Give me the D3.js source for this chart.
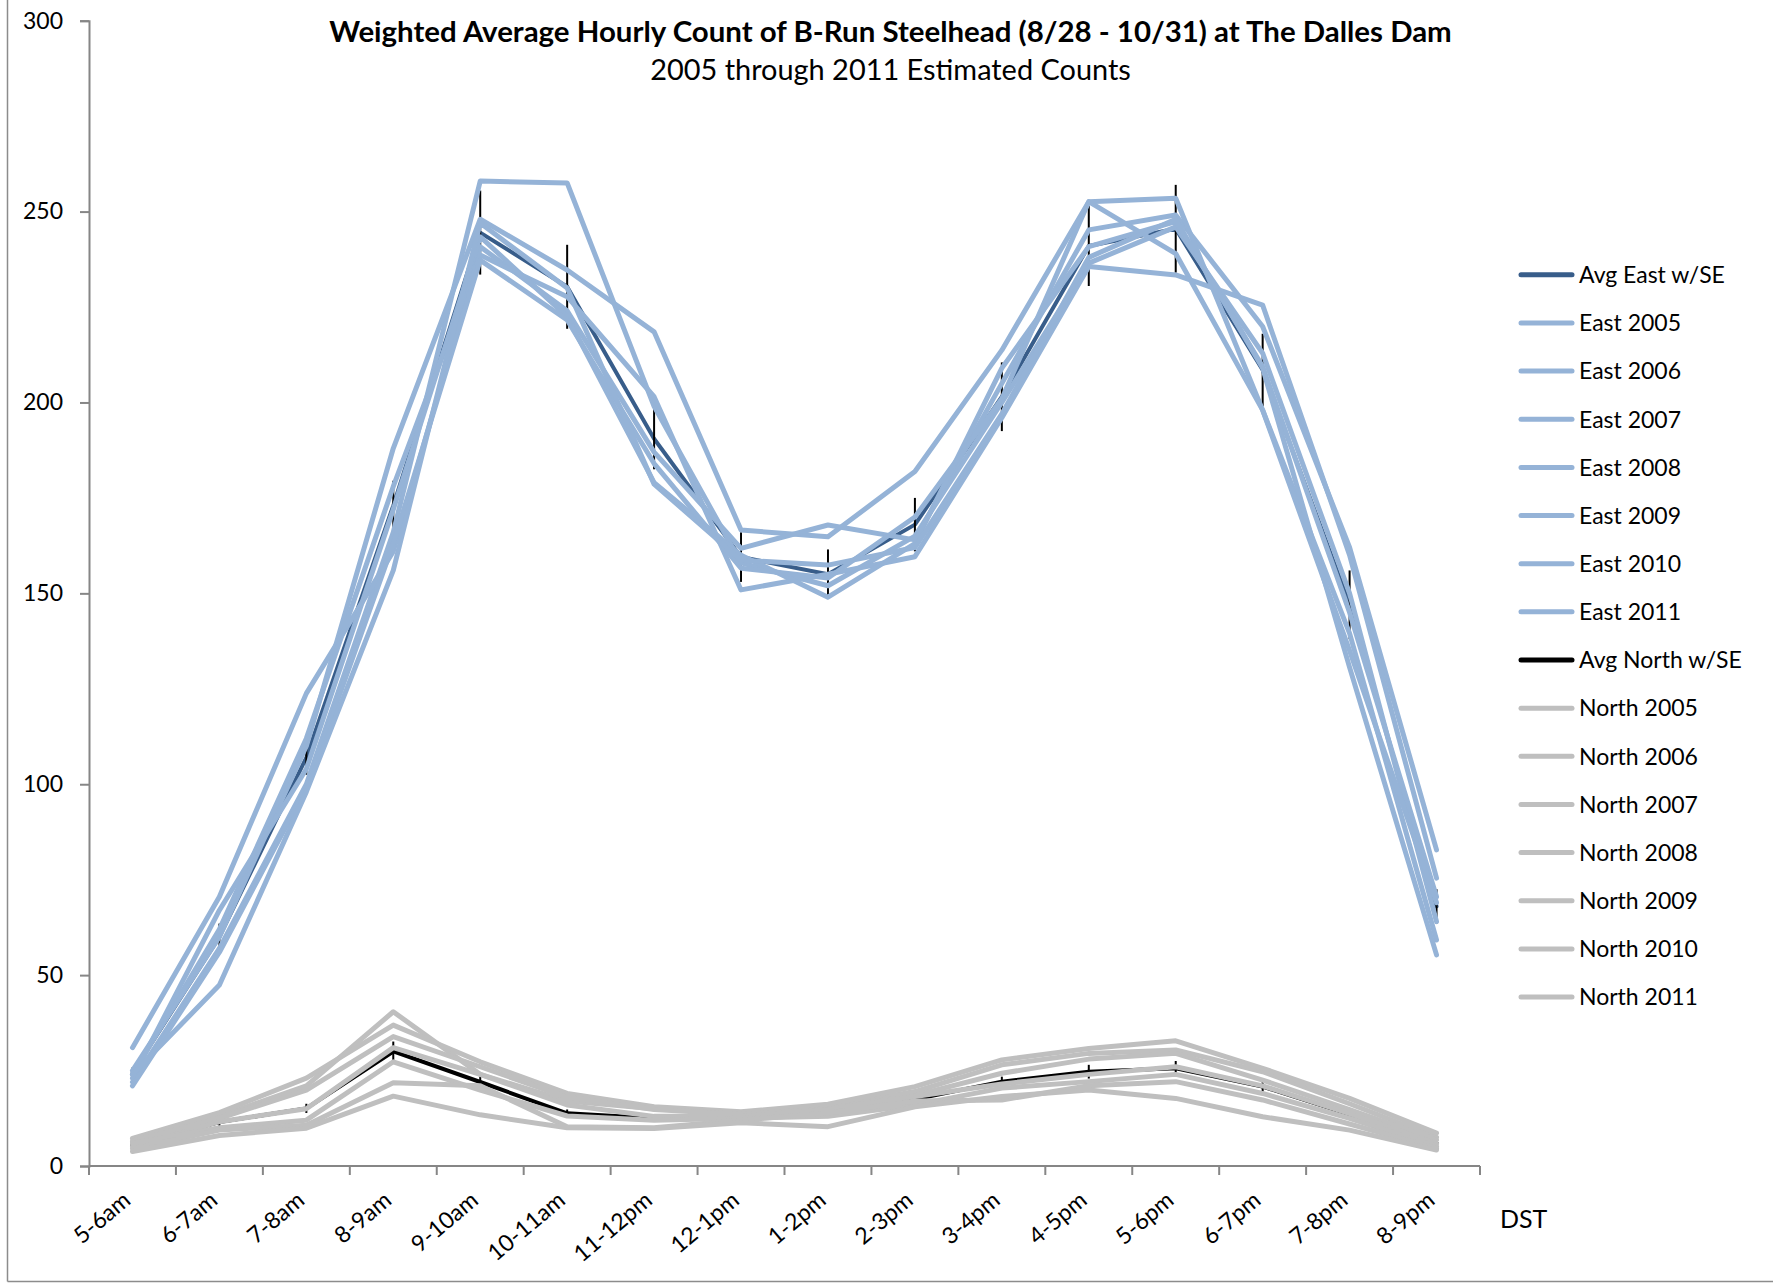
<!DOCTYPE html>
<html>
<head>
<meta charset="utf-8">
<script src="https://cdn.jsdelivr.net/npm/d3@7"></script>
<style>
  html, body { margin: 0; padding: 0; background: #fff; }
  svg { display: block; }
  text { font-family: Lato, "Open Sans", sans-serif; fill: #000; }
</style>
</head>
<body>
<svg id="chart" width="1773" height="1283"></svg>
<script>
const categories = ["5-6am","6-7am","7-8am","8-9am","9-10am","10-11am","11-12pm","12-1pm","1-2pm","2-3pm","3-4pm","4-5pm","5-6pm","6-7pm","7-8pm","8-9pm"];
const yTicks = [0, 50, 100, 150, 200, 250, 300];

const avgEast  = [24.3, 60, 107, 173, 244.5, 230.3, 190.5, 159.5, 155, 168, 201.5, 241, 245.5, 208.5, 147, 68];
const seEast   = [1.5, 3.5, 4.5, 6.5, 11, 11, 8, 6.5, 6.5, 7, 9, 10.5, 11.5, 9.5, 9, 4.5];
const east2005 = [22, 57, 100, 166, 258, 257.5, 199, 158, 152, 165, 200, 236.5, 246, 212.9, 150, 64];
const east2006 = [25, 60, 110, 188, 248, 234.7, 218.5, 166.6, 164.8, 181.9, 213.7, 252.6, 239, 198, 139.5, 59.2];
const east2007 = [31, 70.5, 123.8, 161, 240.8, 224, 187, 161.8, 167.9, 164, 205, 245.2, 249.1, 219.9, 162, 82.8];
const east2008 = [24, 62, 112, 178, 238.6, 227.7, 201.5, 150.9, 155, 159.6, 196, 235.6, 233.4, 225.5, 160, 75.4];
const east2009 = [23, 67, 104, 172, 243.4, 222.5, 179, 160, 149, 163, 209, 240.8, 247.4, 209.4, 145, 70.5];
const east2010 = [21, 56, 99, 163, 237.3, 221.6, 184, 156.6, 154, 170, 201, 252.6, 253.5, 198, 135, 69];
const east2011 = [24, 47.4, 98, 156, 247, 230, 178.6, 158.7, 157.4, 162, 197, 238, 248, 209, 130.6, 55.3];

const avgNorth  = [5.5, 11.5, 15.1, 30, 22, 13.8, 12.5, 12.5, 13.8, 17.5, 22.1, 24.7, 25.6, 20.8, 13.5, 6];
const seNorth   = [0.6, 1, 1.2, 2.6, 1.5, 1, 0.8, 0.7, 0.8, 1, 1.3, 1.8, 1.9, 1.4, 1.2, 0.6];
const north2005 = [6, 13, 21, 40.4, 24, 17, 15, 14, 15.5, 19.5, 26.5, 29.5, 30.4, 24.7, 16.3, 7.5];
const north2006 = [7.2, 14, 23, 36.9, 27.3, 19, 15.5, 14.2, 16.2, 20.8, 27.8, 30.8, 32.8, 25.6, 17.7, 8.6];
const north2007 = [6.5, 12.5, 19.9, 33.9, 26, 18, 14.8, 13.5, 15, 18.5, 24.3, 28, 29.5, 22.5, 14.8, 6.8];
const north2008 = [5, 11.6, 15, 31, 24, 16, 13, 13, 14.8, 18.2, 21.5, 24, 26, 21, 13.7, 5.8];
const north2009 = [5.9, 10, 12, 27.3, 19.9, 13.1, 12, 12.5, 13, 16, 20.4, 22.1, 24, 19, 12.5, 5.1];
const north2010 = [4.5, 9.4, 10.7, 21.8, 21, 10.3, 10, 12, 13.9, 17, 17.3, 21, 22.1, 17.3, 11, 4.6];
const north2011 = [3.8, 8, 9.9, 18.3, 13.4, 10, 9.8, 11.3, 10.3, 15.5, 18.2, 19.9, 17.7, 12.9, 9.4, 4.2];

const C_AVG_E = "#385D8A", C_E = "#95B3D7", C_AVG_N = "#000000", C_N = "#BFBFBF";

const series = [
  { name: "Avg East w/SE", values: avgEast, se: seEast, color: C_AVG_E, width: 4 },
  { name: "East 2005", values: east2005, color: C_E, width: 5 },
  { name: "East 2006", values: east2006, color: C_E, width: 5 },
  { name: "East 2007", values: east2007, color: C_E, width: 5 },
  { name: "East 2008", values: east2008, color: C_E, width: 5 },
  { name: "East 2009", values: east2009, color: C_E, width: 5 },
  { name: "East 2010", values: east2010, color: C_E, width: 5 },
  { name: "East 2011", values: east2011, color: C_E, width: 5 },
  { name: "Avg North w/SE", values: avgNorth, se: seNorth, color: C_AVG_N, width: 4 },
  { name: "North 2005", values: north2005, color: C_N, width: 5 },
  { name: "North 2006", values: north2006, color: C_N, width: 5 },
  { name: "North 2007", values: north2007, color: C_N, width: 5 },
  { name: "North 2008", values: north2008, color: C_N, width: 5 },
  { name: "North 2009", values: north2009, color: C_N, width: 5 },
  { name: "North 2010", values: north2010, color: C_N, width: 5 },
  { name: "North 2011", values: north2011, color: C_N, width: 5 }
];

const svg = d3.select("#chart");
const AXIS = "#868686";

// outer frame (left and bottom edges visible)
svg.append("line").attr("x1", 7.5).attr("x2", 7.5).attr("y1", 0).attr("y2", 1281.5)
  .attr("stroke", "#8c8c8c").attr("stroke-width", 1.5);
svg.append("line").attr("x1", 7.5).attr("x2", 1773).attr("y1", 1281.5).attr("y2", 1281.5)
  .attr("stroke", "#8c8c8c").attr("stroke-width", 1.5);

const x = d3.scaleBand().domain(categories).range([89, 1480]).padding(0);
const y = d3.scaleLinear().domain([0, 300]).range([1166, 20.7]);
const cx = c => x(c) + x.bandwidth() / 2;

// Y axis
const yAxis = svg.append("g").attr("transform", "translate(89,0)")
  .call(d3.axisLeft(y).tickValues(yTicks).tickSize(9).tickPadding(17).tickFormat(d3.format("d")));
yAxis.select(".domain").attr("stroke", AXIS).attr("stroke-width", 2);
yAxis.selectAll(".tick line").attr("stroke", AXIS).attr("stroke-width", 2);
yAxis.selectAll(".tick text").attr("font-family", "Lato").attr("font-size", 23).attr("fill", "#000");

// X axis line and boundary ticks
const boundaries = categories.map(c => x(c)).concat([x.range()[1]]);
svg.append("line").attr("x1", 89).attr("x2", 1480).attr("y1", y(0)).attr("y2", y(0))
  .attr("stroke", AXIS).attr("stroke-width", 2);
svg.append("g").selectAll("line").data(boundaries).join("line")
  .attr("x1", d => d).attr("x2", d => d).attr("y1", y(0)).attr("y2", y(0) + 9)
  .attr("stroke", AXIS).attr("stroke-width", 2);

// X labels (rotated)
svg.append("g").selectAll("text").data(categories).join("text")
  .attr("transform", c => `translate(${cx(c) - 11},${1190}) rotate(-40)`)
  .attr("text-anchor", "end").attr("dy", "0.72em")
  .attr("font-size", 23).text(c => c);

svg.append("text").attr("x", 1500).attr("y", 1228).attr("font-size", 25).text("DST");

// Lines
const line = d3.line().x((d, i) => cx(categories[i])).y(d => y(d));
const plot = svg.append("g");
series.forEach(s => {
  const g = plot.append("g");
  g.append("path").datum(s.values).attr("d", line)
    .attr("fill", "none").attr("stroke", s.color).attr("stroke-width", s.width)
    .attr("stroke-linejoin", "round").attr("stroke-linecap", "round");
  if (s.se) {
    g.selectAll("line.err").data(s.values).join("line").attr("class", "err")
      .attr("x1", (d, i) => cx(categories[i])).attr("x2", (d, i) => cx(categories[i]))
      .attr("y1", (d, i) => y(d + s.se[i])).attr("y2", (d, i) => y(d - s.se[i]))
      .attr("stroke", "#000").attr("stroke-width", 2);
  }
});

// Legend
const lg = svg.append("g");
series.forEach((s, i) => {
  const yy = 274.8 + i * 48.15;
  lg.append("line").attr("x1", 1521).attr("x2", 1572).attr("y1", yy).attr("y2", yy)
    .attr("stroke", s.color).attr("stroke-width", 5).attr("stroke-linecap", "round");
  lg.append("text").attr("x", 1579).attr("y", yy).attr("dy", "0.36em")
    .attr("font-size", 23).text(s.name);
});

// Titles
function fit(sel, target) {
  const w = sel.node().getComputedTextLength();
  const fs = parseFloat(sel.attr("font-size"));
  sel.attr("font-size", fs * target / w);
}
const t1 = svg.append("text").attr("x", 890.5).attr("y", 41.5).attr("text-anchor", "middle")
  .attr("font-weight", "bold").attr("font-size", 27)
  .text("Weighted Average Hourly Count of B-Run Steelhead (8/28 - 10/31) at The Dalles Dam");
fit(t1, 1123);
const t2 = svg.append("text").attr("x", 890.5).attr("y", 80).attr("text-anchor", "middle")
  .attr("font-size", 25).text("2005 through 2011 Estimated Counts");
fit(t2, 481);
</script>
</body>
</html>
